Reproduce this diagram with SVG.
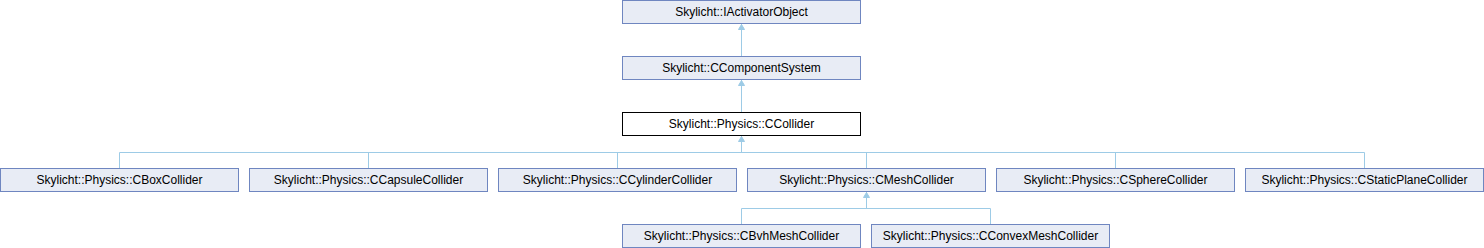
<svg xmlns="http://www.w3.org/2000/svg" width="1484" height="248" viewBox="0 0 1484 248">
<style>
.n rect{fill:#E8ECF5;stroke:#6F86C0;stroke-width:1}
.cur rect{fill:#FFFFFF;stroke:#000000}
text{font-family:"Liberation Sans",Arial,sans-serif;font-size:12px;fill:#000;text-anchor:middle}
.e{stroke:#9DCBE6;stroke-width:1;fill:none}
.h{fill:#9DCBE6;stroke:#9DCBE6;stroke-width:1}
</style>
<rect width="1484" height="248" fill="#FFFFFF"/>
<g id="edges">
<path class="e" d="M741.5,56.5 V24"/>
<path class="e" d="M741.5,112.5 V80"/>
<path class="e" d="M741.5,152.5 V136"/>
<path class="e" d="M119.5,168.5 V152.5 H1364.5 V168.5"/>
<path class="e" d="M368.5,152.5 V168.5 M617.5,152.5 V168.5 M866.5,152.5 V168.5 M1115.5,152.5 V168.5"/>
<path class="e" d="M866.5,208.5 V192"/>
<path class="e" d="M741.5,224.5 V208.5 H990.5 V224.5"/>
<path class="h" d="M741.5,24.5 L744.5,29.5 L738.5,29.5 Z"/>
<path class="h" d="M741.5,80.5 L744.5,85.5 L738.5,85.5 Z"/>
<path class="h" d="M741.5,136.5 L744.5,141.5 L738.5,141.5 Z"/>
<path class="h" d="M866.5,192.5 L869.5,197.5 L863.5,197.5 Z"/>
</g>
<g id="IActivatorObject" class="n"><rect x="622.5" y="0.5" width="238" height="23"/><text x="741.5" y="15.5">Skylicht::IActivatorObject</text></g>
<g id="CComponentSystem" class="n"><rect x="622.5" y="56.5" width="238" height="23"/><text x="741.5" y="71.5">Skylicht::CComponentSystem</text></g>
<g id="CCollider" class="n cur"><rect x="622.5" y="112.5" width="238" height="23"/><text x="741.5" y="127.5">Skylicht::Physics::CCollider</text></g>
<g id="CBoxCollider" class="n"><rect x="0.5" y="168.5" width="238" height="23"/><text x="119.5" y="183.5">Skylicht::Physics::CBoxCollider</text></g>
<g id="CCapsuleCollider" class="n"><rect x="249.5" y="168.5" width="238" height="23"/><text x="368.5" y="183.5">Skylicht::Physics::CCapsuleCollider</text></g>
<g id="CCylinderCollider" class="n"><rect x="498.5" y="168.5" width="238" height="23"/><text x="617.5" y="183.5">Skylicht::Physics::CCylinderCollider</text></g>
<g id="CMeshCollider" class="n"><rect x="747.5" y="168.5" width="238" height="23"/><text x="866.5" y="183.5">Skylicht::Physics::CMeshCollider</text></g>
<g id="CSphereCollider" class="n"><rect x="996.5" y="168.5" width="238" height="23"/><text x="1115.5" y="183.5">Skylicht::Physics::CSphereCollider</text></g>
<g id="CStaticPlaneCollider" class="n"><rect x="1245.5" y="168.5" width="238" height="23"/><text x="1364.5" y="183.5">Skylicht::Physics::CStaticPlaneCollider</text></g>
<g id="CBvhMeshCollider" class="n"><rect x="622.5" y="224.5" width="238" height="23"/><text x="741.5" y="239.5">Skylicht::Physics::CBvhMeshCollider</text></g>
<g id="CConvexMeshCollider" class="n"><rect x="871.5" y="224.5" width="238" height="23"/><text x="990.5" y="239.5">Skylicht::Physics::CConvexMeshCollider</text></g>
</svg>
